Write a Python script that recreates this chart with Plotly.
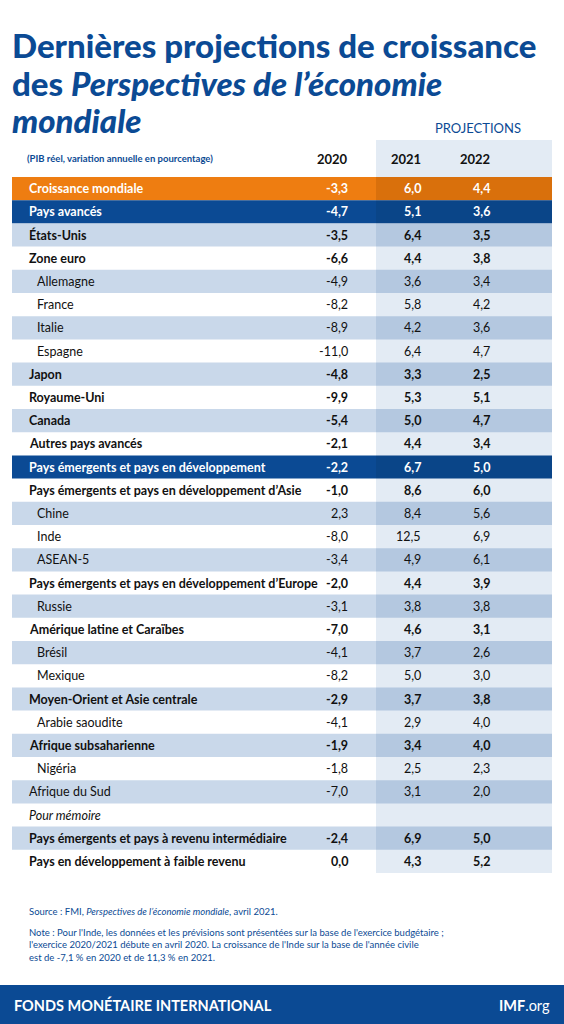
import plotly.graph_objects as go

labels = ["Croissance mondiale","Pays avancés","États-Unis","Zone euro","Allemagne","France","Italie","Espagne",
"Japon","Royaume-Uni","Canada","Autres pays avancés","Pays émergents et pays en développement",
"Pays émergents et pays en développement d’Asie","Chine","Inde","ASEAN-5",
"Pays émergents et pays en développement d’Europe","Russie","Amérique latine et Caraïbes","Brésil","Mexique",
"Moyen-Orient et Asie centrale","Arabie saoudite","Afrique subsaharienne","Nigéria","Afrique du Sud",
"<i>Pour mémoire</i>","Pays émergents et pays à revenu intermédiaire","Pays en développement à faible revenu"]
v2020 = ["-3,3","-4,7","-3,5","-6,6","-4,9","-8,2","-8,9","-11,0","-4,8","-9,9","-5,4","-2,1","-2,2","-1,0","2,3","-8,0","-3,4","-2,0","-3,1","-7,0","-4,1","-8,2","-2,9","-4,1","-1,9","-1,8","-7,0","","-2,4","0,0"]
v2021 = ["6,0","5,1","6,4","4,4","3,6","5,8","4,2","6,4","3,3","5,3","5,0","4,4","6,7","8,6","8,4","12,5","4,9","4,4","3,8","4,6","3,7","5,0","3,7","2,9","3,4","2,5","3,1","","6,9","4,3"]
v2022 = ["4,4","3,6","3,5","3,8","3,4","4,2","3,6","4,7","2,5","5,1","4,7","3,4","5,0","6,0","5,6","6,9","6,1","3,9","3,8","3,1","2,6","3,0","3,8","4,0","4,0","2,3","2,0","","5,0","5,2"]
# row kinds: o=orange, d=dark, b=bold, i=indented, n=normal
kinds = ["o","d","b","b","i","i","i","i","b","b","b","b","d","b","i","i","i","b","i","b","i","i","b","i","b","i","n","n","b","b"]
years = ["2020","2021","2022"]

BLUE = "#0b4a94"
top, rh = 177, 23.2
L, R, PX = 12, 552, 376
shapes, ann = [], []
F = "Lato"
shapes.append(dict(type="rect", x0=PX, x1=R, y0=140, y1=top+30*rh, fillcolor="#e3ebf4", line_width=0, layer="below"))
for i, lab in enumerate(labels):
    y0 = top + i*rh; y1 = y0 + rh; yc = (y0+y1)/2
    k = kinds[i]
    if k == "o":
        c1, c2, tc = "#ee7d11", "#d9700c", "white"
    elif k == "d":
        c1, c2, tc = BLUE, "#0a4588", "white"
    elif i % 2 == 0:
        c1, c2, tc = "#c9d8ea", "#b4c8e0", "#111"
    else:
        c1, c2, tc = None, None, "#111"
    if c1:
        shapes.append(dict(type="rect", x0=L, x1=PX, y0=y0, y1=y1, fillcolor=c1, line_width=0, layer="below"))
        shapes.append(dict(type="rect", x0=PX, x1=R, y0=y0, y1=y1, fillcolor=c2, line_width=0, layer="below"))
    bold = k in ("o","d","b")
    xl = 35 if k == "i" else 27
    fnt = dict(family=F, size=12.5, color=tc, weight="bold" if bold else 400)
    ann.append(dict(x=xl, y=yc, text=lab, xanchor="left", showarrow=False, font=fnt))
    for xv, vals in ((350, v2020), (423, v2021), (492, v2022)):
        ann.append(dict(x=xv, y=yc, text=vals[i], xanchor="right", showarrow=False, font=fnt))

for t, yy in (("Dernières projections de croissance", 45), ("des <i>Perspectives de l’économie</i>", 83), ("<i>mondiale</i>", 120)):
    ann.append(dict(x=10, y=yy, text=t, xanchor="left", showarrow=False, font=dict(family=F, size=33, color=BLUE, weight=900)))
ann.append(dict(x=478, y=128, text="PROJECTIONS", showarrow=False, font=dict(family=F, size=13, color=BLUE)))
ann.append(dict(x=25, y=158, text="(PIB réel, variation annuelle en pourcentage)", xanchor="left", showarrow=False,
                font=dict(family=F, size=9.5, color=BLUE, weight="bold")))
for xv, yr in zip((350, 423, 492), years):
    ann.append(dict(x=xv, y=159, text=yr, xanchor="right", showarrow=False, font=dict(family=F, size=13, color="#111", weight="bold")))
ann.append(dict(x=27, y=911, text="Source : FMI, <i>Perspectives de l’économie mondiale</i>, avril 2021.", xanchor="left",
                showarrow=False, font=dict(family=F, size=9.5, color=BLUE)))
ann.append(dict(x=27, y=945, text="Note : Pour l'Inde, les données et les prévisions sont présentées sur la base de l'exercice budgétaire ;<br>l'exercice 2020/2021 débute en avril 2020. La croissance de l'Inde sur la base de l'année civile<br>est de -7,1 % en 2020 et de 11,3 % en 2021.",
                xanchor="left", align="left", showarrow=False, font=dict(family=F, size=9.5, color=BLUE)))
shapes.append(dict(type="rect", x0=0, x1=564, y0=985, y1=1024, fillcolor=BLUE, line_width=0))
ann.append(dict(x=12, y=1005, text="FONDS MONÉTAIRE INTERNATIONAL", xanchor="left", showarrow=False,
                font=dict(family=F, size=14.5, color="white", weight="bold")))
ann.append(dict(x=552, y=1005, text="<b>IMF</b>.org", xanchor="right", showarrow=False, font=dict(family=F, size=14.5, color="white")))

fig = go.Figure()
fig.update_layout(width=564, height=1024, margin=dict(l=0, r=0, t=0, b=0), plot_bgcolor="white", paper_bgcolor="white",
                  xaxis=dict(range=[0, 564], visible=False, fixedrange=True),
                  yaxis=dict(range=[1024, 0], visible=False, fixedrange=True),
                  shapes=shapes, annotations=ann, showlegend=False)
fig.write_html("out.html", config=dict(displayModeBar=False),
               post_script="document.body.style.margin='0';document.body.style.overflow='hidden';")
